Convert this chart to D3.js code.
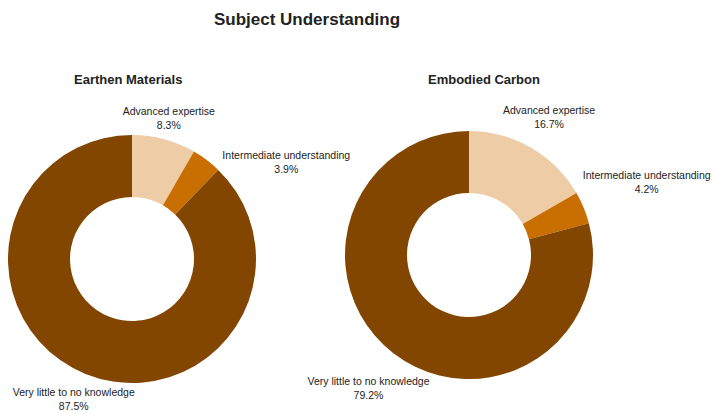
<!DOCTYPE html>
<html>
<head>
<meta charset="utf-8">
<script src="https://cdn.jsdelivr.net/npm/d3@7"></script>
<style>
  html, body { margin: 0; padding: 0; background: #fff; }
  svg { display: block; }
  text { font-family: "Liberation Sans", Arial, sans-serif; fill: #222; }
</style>
</head>
<body>
<svg id="chart" width="712" height="413"></svg>
<script>
// Survey responses: share of respondents by level of understanding
const categories = ["Advanced expertise", "Intermediate understanding", "Very little to no knowledge"];
const earthenMaterials = [8.3, 3.9, 87.5];
const embodiedCarbon = [16.7, 4.2, 79.2];
const chartTitle = "Subject Understanding";
const panelTitles = ["Earthen Materials", "Embodied Carbon"];

const colors = d3.scaleOrdinal()
  .domain(categories)
  .range(["#EDCCA6", "#C96E00", "#824600"]);

const svg = d3.select("#chart");

svg.append("text")
  .attr("x", 307).attr("y", 25)
  .attr("text-anchor", "middle")
  .style("font-size", "17px").style("font-weight", "bold")
  .text(chartTitle);

// layout of the two donut panels
const panels = [
  { values: earthenMaterials, title: panelTitles[0], cx: 132, cy: 259, titleX: 74,
    nudge: [[-2, 1], [64, 20], [-2, -2]] },
  { values: embodiedCarbon, title: panelTitles[1], cx: 469, cy: 255, titleX: 428,
    nudge: [[5, -11], [39, -19], [-9, 11]] }
];

const outerR = 124, innerR = 62, labelR = 150;

const pie = d3.pie().sort(null).value(d => d.value);
const arc = d3.arc().innerRadius(innerR).outerRadius(outerR);

panels.forEach(p => {
  const data = categories.map((c, i) => ({ category: c, value: p.values[i] }));
  const arcs = pie(data);

  svg.append("text")
    .attr("x", p.titleX).attr("y", 84)
    .style("font-size", "13px").style("font-weight", "bold")
    .text(p.title);

  const g = svg.append("g").attr("transform", `translate(${p.cx},${p.cy})`);

  g.selectAll("path")
    .data(arcs)
    .join("path")
    .attr("d", arc)
    .attr("fill", d => colors(d.data.category));

  const labels = g.selectAll("text.lbl")
    .data(arcs)
    .join("text")
    .attr("class", "lbl")
    .attr("text-anchor", "middle")
    .style("font-size", "10.5px")
    .attr("transform", (d, i) => {
      const a = (d.startAngle + d.endAngle) / 2;
      const x = labelR * Math.sin(a) + p.nudge[i][0];
      const y = -labelR * Math.cos(a) + p.nudge[i][1];
      return `translate(${x},${y})`;
    });

  labels.append("tspan").attr("x", 0).attr("dy", 0).text(d => d.data.category);
  labels.append("tspan").attr("x", 0).attr("dy", 14).text(d => d.data.value.toFixed(1) + "%");
});
</script>
</body>
</html>
